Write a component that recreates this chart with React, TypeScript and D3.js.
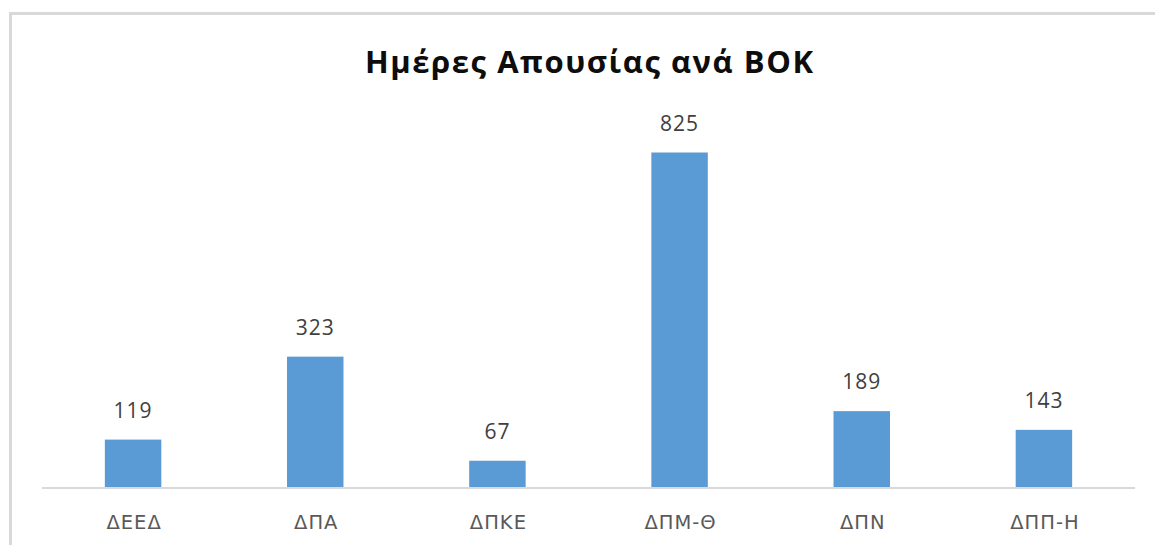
import React from "react";
import * as d3 from "d3";

const categories: string[] = ["ΔΕΕΔ", "ΔΠΑ", "ΔΠΚΕ", "ΔΠΜ-Θ", "ΔΠΝ", "ΔΠΠ-Η"];
const values: number[] = [119, 323, 67, 825, 189, 143];
const title = "Ημέρες Απουσίας ανά ΒΟΚ";
const yDomainMax = 900;

const W = 1155;
const H = 545;

export default function App() {
  const x = d3
    .scaleBand<string>()
    .domain(categories)
    .range([42, 1135])
    .paddingInner(0.69)
    .paddingOuter(0.345);
  const y = d3.scaleLinear().domain([0, yDomainMax]).range([488, 122]);
  const font = "'Open Sans', 'DejaVu Sans', sans-serif";

  return (
    <svg
      width={W}
      height={H}
      style={{ position: "absolute", left: 0, top: 0, background: "#fff" }}
      fontFamily={font}
    >
      <rect x={0} y={0} width={W} height={H} fill="#fff" />
      <rect
        x={10.5}
        y={13.5}
        width={W + 20}
        height={H + 20}
        fill="none"
        stroke="#d9d9d9"
        strokeWidth={3}
      />
      <text
        x={589}
        y={73}
        textAnchor="middle"
        fontSize={31}
        fontWeight="bold"
        fill="#0d0d0d"
        textLength={448}
        lengthAdjust="spacing"
      >
        {title}
      </text>
      {categories.map((c, i) => (
        <rect
          key={c}
          x={x(c)!}
          y={y(values[i])}
          width={x.bandwidth()}
          height={y(0) - y(values[i])}
          fill="#5b9bd5"
        />
      ))}
      <line x1={42} x2={1135} y1={y(0)} y2={y(0)} stroke="#d9d9d9" strokeWidth={2} />
      {categories.map((c, i) => (
        <text
          key={"v" + c}
          x={x(c)! + x.bandwidth() / 2}
          y={y(values[i]) - 22}
          textAnchor="middle"
          fontSize={21}
          letterSpacing={1}
          fill="#404040"
        >
          {values[i]}
        </text>
      ))}
      {categories.map((c) => (
        <text
          key={"c" + c}
          x={x(c)! + x.bandwidth() / 2 + 1}
          y={528.5}
          textAnchor="middle"
          fontSize={19.5}
          fontFamily="'DejaVu Sans', sans-serif"
          letterSpacing={1}
          fill="#595959"
        >
          {c}
        </text>
      ))}
    </svg>
  );
}
